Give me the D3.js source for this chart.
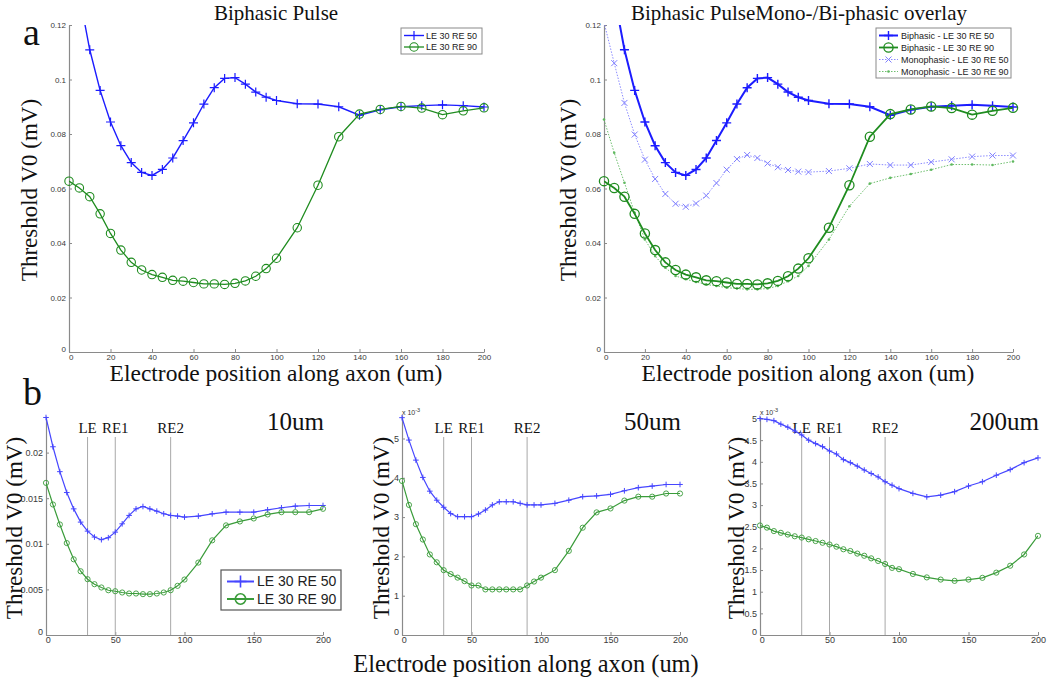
<!DOCTYPE html>
<html>
<head>
<meta charset="utf-8">
<script src="https://cdn.jsdelivr.net/npm/d3@7"></script>
<style>
  html, body { margin: 0; padding: 0; background: #fff; }
  svg { display: block; }
  .tick text { font-family: Arial, "Liberation Sans", sans-serif; fill: #3a3a3a; }
  .serif { font-family: "Liberation Serif", "Times New Roman", serif; fill: #111; }
</style>
</head>
<body>
<script>
// ---------- data ----------
const xPos = [0,5,10,15,20,25,30,35,40,45,50,55,60,65,70,75,80,85,90,95,100,110,120,130,140,150,160,170,180,190,200];

// Panel a: biphasic pulse thresholds (mV)
const biLE50 = [0.160,0.131,0.1109,0.0960,0.0844,0.0757,0.0695,0.0659,0.0648,0.0670,0.0712,0.0776,0.0841,0.0910,0.0970,0.1004,0.1007,0.0983,0.0954,0.0935,0.0923,0.0911,0.0910,0.0900,0.0869,0.0889,0.0900,0.0904,0.0907,0.0904,0.0899];
const biLE90 = [0.0627,0.0602,0.0570,0.0507,0.0435,0.0374,0.0329,0.0301,0.0284,0.0274,0.0263,0.0260,0.0255,0.0250,0.0250,0.0248,0.0252,0.0261,0.0278,0.0306,0.0344,0.0456,0.0612,0.0790,0.0873,0.0890,0.0901,0.0895,0.0871,0.0885,0.0896];
// Monophasic overlay (mV)
const monoLE50 = [0.1210,0.1060,0.0914,0.0798,0.0706,0.0635,0.0580,0.0544,0.0533,0.0545,0.0574,0.0620,0.0669,0.0708,0.0723,0.0712,0.0692,0.0678,0.0668,0.0662,0.0660,0.0664,0.0674,0.0690,0.0686,0.0686,0.0697,0.0707,0.0717,0.0721,0.0721];
const monoLE90 = [0.0853,0.0731,0.0621,0.0511,0.0413,0.0352,0.0309,0.0279,0.0267,0.0257,0.0248,0.0242,0.0236,0.0233,0.0230,0.0230,0.0233,0.0242,0.0260,0.0279,0.0316,0.0413,0.0535,0.0618,0.0639,0.0653,0.0669,0.0688,0.0688,0.0686,0.0699];

// Panel b: 10um (mV)
const d10LE50 = [0.02385,0.02064,0.01791,0.01562,0.01383,0.01238,0.01139,0.01074,0.01045,0.01067,0.01128,0.01219,0.01311,0.01383,0.01409,0.01383,0.01358,0.01329,0.01311,0.01304,0.01293,0.01304,0.01329,0.01347,0.01347,0.01347,0.01373,0.01395,0.01413,0.01420,0.01420];
const d10LE90 = [0.01668,0.01431,0.01212,0.01008,0.00830,0.00699,0.00612,0.00557,0.00521,0.00491,0.00480,0.00466,0.00455,0.00455,0.00448,0.00448,0.00455,0.00466,0.00491,0.00539,0.00608,0.00794,0.01038,0.01202,0.01245,0.01278,0.01322,0.01347,0.01347,0.01347,0.01384];
// 50um (x 10^-3 mV)
const d50LE50 = [5.53,4.96,4.45,4.01,3.66,3.43,3.25,3.09,3.01,3.01,3.01,3.08,3.18,3.31,3.39,3.39,3.39,3.35,3.31,3.31,3.31,3.35,3.43,3.52,3.54,3.58,3.67,3.75,3.79,3.83,3.83];
const d50LE90 = [3.92,3.31,2.82,2.43,2.05,1.85,1.65,1.55,1.46,1.37,1.26,1.26,1.16,1.16,1.16,1.16,1.16,1.16,1.26,1.36,1.46,1.65,2.14,2.73,3.12,3.22,3.42,3.52,3.52,3.60,3.60];
// 200um (x 10^-3 mV)
const d200LE50 = [5.00,4.98,4.95,4.87,4.80,4.71,4.62,4.50,4.42,4.35,4.25,4.18,4.05,3.98,3.90,3.81,3.73,3.65,3.54,3.46,3.38,3.27,3.19,3.23,3.31,3.44,3.54,3.69,3.82,3.98,4.09];
const d200LE90 = [2.53,2.48,2.40,2.36,2.32,2.28,2.25,2.21,2.17,2.13,2.09,2.04,1.98,1.94,1.88,1.83,1.77,1.71,1.64,1.55,1.52,1.41,1.33,1.28,1.25,1.28,1.32,1.44,1.60,1.86,2.29];

const topYTicks = [0,0.02,0.04,0.06,0.08,0.1,0.12];
const topXTicks = [0,20,40,60,80,100,120,140,160,180,200];
const botXTicks = [0,50,100,150,200];
const b10YTicks = [0,0.005,0.01,0.015,0.02];
const b50YTicks = [0,1,2,3,4,5];
const b200YTicks = [0,0.5,1,1.5,2,2.5,3,3.5,4,4.5,5];
const electrodeLines = [30,50,90];
const electrodeNames = ["LE","RE1","RE2"];

// ---------- drawing ----------
const W = 1050, H = 686;
const svg = d3.select("body").append("svg").attr("width", W).attr("height", H);
svg.append("rect").attr("width", W).attr("height", H).attr("fill", "#fff");
const defs = svg.append("defs");

const BLUE = "#1c1cff", GREEN = "#1f8c1f";
const BLUE_L = "#4646ff", GREEN_L = "#3a9c3a";
const AXIS = "#8a8a8a";

function plusPath(s){ return `M${-s},0H${s}M0,${-s}V${s}`; }
function xPath(s){ return `M${-s},${-s}L${s},${s}M${-s},${s}L${s},${-s}`; }

let clipId = 0;
function makePanel(o) {
  const g = svg.append("g");
  const x = d3.scaleLinear().domain([0,200]).range([o.x0, o.x1]);
  const y = d3.scaleLinear().domain([0, o.ymax]).range([o.y0, o.y1]);
  const id = "clip" + (clipId++);
  defs.append("clipPath").attr("id", id).append("rect")
    .attr("x", o.x0).attr("y", o.y1).attr("width", o.x1 - o.x0).attr("height", o.y0 - o.y1);

  const xa = g.append("g").attr("transform", `translate(0,${o.y0})`)
    .call(d3.axisBottom(x).tickValues(o.xticks).tickSizeInner(-3).tickSizeOuter(0).tickPadding(2).tickFormat(d3.format("d")));
  const ya = g.append("g").attr("transform", `translate(${o.x0},0)`)
    .call(d3.axisLeft(y).tickValues(o.yticks).tickSizeInner(-3).tickSizeOuter(0).tickPadding(3).tickFormat(o.yfmt));
  [xa, ya].forEach(a => {
    a.select(".domain").attr("stroke", AXIS).attr("stroke-width", 1.2);
    a.selectAll(".tick line").attr("stroke", AXIS);
    a.selectAll(".tick text").attr("font-size", o.tickFont);
  });
  ya.selectAll(".tick").filter(d => d === 0).select("text").attr("dy", "-0.1em");
  xa.selectAll(".tick").filter(d => d === 0).select("text").attr("dx", "0.2em");
  return {g, x, y, clip: `url(#${id})`};
}

function drawSeries(p, vals, st) {
  const pts = xPos.map((xx, i) => [xx, vals[i]]);
  const line = d3.line().x(d => p.x(d[0])).y(d => p.y(d[1]));
  p.g.append("path").datum(pts).attr("d", line).attr("fill", "none")
    .attr("stroke", st.color).attr("stroke-width", st.lw)
    .attr("stroke-dasharray", st.dash || null)
    .attr("clip-path", p.clip);
  const ymax = p.y.domain()[1];
  const vis = pts.filter(d => d[1] <= ymax * 1.001);
  const mk = p.g.append("g");
  vis.forEach(d => {
    const cx = p.x(d[0]), cy = p.y(d[1]);
    if (st.marker === "o") {
      mk.append("circle").attr("cx", cx).attr("cy", cy).attr("r", st.ms)
        .attr("fill", "none").attr("stroke", st.color).attr("stroke-width", st.mlw || 1);
    } else if (st.marker === "+") {
      mk.append("path").attr("transform", `translate(${cx},${cy})`).attr("d", plusPath(st.ms))
        .attr("stroke", st.color).attr("stroke-width", st.mlw || 1).attr("fill", "none");
    } else if (st.marker === "x") {
      mk.append("path").attr("transform", `translate(${cx},${cy})`).attr("d", xPath(st.ms))
        .attr("stroke", st.color).attr("stroke-width", st.mlw || 1).attr("fill", "none");
    } else if (st.marker === ".") {
      mk.append("circle").attr("cx", cx).attr("cy", cy).attr("r", st.ms).attr("fill", st.color);
    }
  });
}

function legendEntry(g, x0, x1, yy, st, label, fontSize, tx) {
  g.append("line").attr("x1", x0).attr("x2", x1).attr("y1", yy).attr("y2", yy)
    .attr("stroke", st.color).attr("stroke-width", st.lw).attr("stroke-dasharray", st.dash || null);
  const cx = (x0 + x1) / 2;
  if (st.marker === "o") g.append("circle").attr("cx", cx).attr("cy", yy).attr("r", st.ms).attr("fill", "none").attr("stroke", st.color).attr("stroke-width", st.mlw || 1);
  if (st.marker === "+") g.append("path").attr("transform", `translate(${cx},${yy})`).attr("d", plusPath(st.ms)).attr("stroke", st.color).attr("stroke-width", st.mlw || 1);
  if (st.marker === "x") g.append("path").attr("transform", `translate(${cx},${yy})`).attr("d", xPath(st.ms)).attr("stroke", st.color).attr("stroke-width", st.mlw || 1);
  if (st.marker === ".") g.append("circle").attr("cx", cx).attr("cy", yy).attr("r", st.ms).attr("fill", st.color);
  g.append("text").attr("x", tx).attr("y", yy).attr("dy", "0.35em")
    .attr("font-family", "Arial, 'Liberation Sans', sans-serif").attr("font-size", fontSize)
    .attr("fill", "#222").text(label);
}

const fmtTop = d => d === 0 ? "0" : String(+d.toFixed(3));

// ---------- Panel a (left) ----------
const pA = makePanel({x0: 69, x1: 484, y0: 352, y1: 25, ymax: 0.12, xticks: topXTicks, yticks: topYTicks, yfmt: fmtTop, tickFont: 8});
const stA50 = {color: BLUE, lw: 1.4, marker: "+", ms: 4.5, mlw: 1.2};
const stA90 = {color: GREEN, lw: 1.3, marker: "o", ms: 4.2, mlw: 1.1};
drawSeries(pA, biLE50, stA50);
drawSeries(pA, biLE90, stA90);
{
  const lg = svg.append("g");
  lg.append("rect").attr("x", 401).attr("y", 28).attr("width", 81).attr("height", 26).attr("fill", "#fff").attr("stroke", AXIS);
  legendEntry(lg, 404, 424, 35.5, stA50, "LE 30 RE 50", 9, 426);
  legendEntry(lg, 404, 424, 47, stA90, "LE 30 RE 90", 9, 426);
}

// ---------- Panel a (right) ----------
const pB = makePanel({x0: 604, x1: 1013, y0: 352, y1: 25, ymax: 0.12, xticks: topXTicks, yticks: topYTicks, yfmt: fmtTop, tickFont: 8});
const stM50 = {color: "#7f7fff", lw: 0.9, dash: "1.5,1.5", marker: "x", ms: 3, mlw: 1};
const stM90 = {color: "#5fb85f", lw: 0.9, dash: "1.5,1.5", marker: ".", ms: 1.3};
const stB50 = {color: BLUE, lw: 2, marker: "+", ms: 4.5, mlw: 1.4};
const stB90 = {color: GREEN, lw: 1.8, marker: "o", ms: 4.6, mlw: 1.3};
drawSeries(pB, monoLE50, stM50);
drawSeries(pB, monoLE90, stM90);
drawSeries(pB, biLE50, stB50);
drawSeries(pB, biLE90, stB90);
{
  const lg = svg.append("g");
  lg.append("rect").attr("x", 876).attr("y", 28).attr("width", 135).attr("height", 50).attr("fill", "#fff").attr("stroke", AXIS);
  legendEntry(lg, 879, 898, 35.5, stB50, "Biphasic - LE 30 RE 50", 9, 901);
  legendEntry(lg, 879, 898, 47.5, stB90, "Biphasic - LE 30 RE 90", 9, 901);
  legendEntry(lg, 879, 898, 59.5, stM50, "Monophasic - LE 30 RE 50", 9, 901);
  legendEntry(lg, 879, 898, 71.5, stM90, "Monophasic - LE 30 RE 90", 9, 901);
}

// ---------- Panel b ----------
const stS50 = {color: BLUE_L, lw: 1.2, marker: "+", ms: 2.8, mlw: 1};
const stS90 = {color: GREEN_L, lw: 1.2, marker: "o", ms: 2.6, mlw: 0.9};

const bPanels = [
  {x0: 46, x1: 323, ymax: 0.024, yTop: 635 - 0.024 / 0.005 * 45.6, yticks: b10YTicks, yfmt: d => d === 0 ? "0" : String(+d.toFixed(3)), d50: d10LE50, d90: d10LE90, label: "10um", exp: false},
  {x0: 402, x1: 680, ymax: 5.6, yTop: 635 - 5.6 * 39.3, yticks: b50YTicks, yfmt: d => String(d), d50: d50LE50, d90: d50LE90, label: "50um", exp: true},
  {x0: 760, x1: 1038, ymax: 5.05, yTop: 635 - 5.05 * 43.3, yticks: b200YTicks, yfmt: d => String(d), d50: d200LE50, d90: d200LE90, label: "200um", exp: true}
];
const ylabX = [22, 389, 744];
bPanels.forEach((b, k) => {
  const p = makePanel({x0: b.x0, x1: b.x1, y0: 635, y1: b.yTop, ymax: b.ymax, xticks: botXTicks, yticks: b.yticks, yfmt: b.yfmt, tickFont: 9});
  electrodeLines.forEach((e, i) => {
    p.g.append("line").attr("x1", p.x(e)).attr("x2", p.x(e)).attr("y1", 437).attr("y2", 635)
      .attr("stroke", "#a8a8a8").attr("stroke-width", 1);
    p.g.append("text").attr("class", "serif").attr("x", p.x(e)).attr("y", 433)
      .attr("text-anchor", "middle").attr("font-size", 15).text(electrodeNames[i]);
  });
  drawSeries(p, b.d50, stS50);
  drawSeries(p, b.d90, stS90);
  p.g.append("text").attr("class", "serif").attr("x", b.x1 + 1).attr("y", 430)
    .attr("text-anchor", "end").attr("font-size", 25).text(b.label);
  if (b.exp) {
    const t = p.g.append("text").attr("x", b.x0).attr("y", 415)
      .attr("font-family", "Arial, 'Liberation Sans', sans-serif").attr("font-size", 7).attr("fill", "#333");
    t.append("tspan").text("x 10");
    t.append("tspan").attr("dy", -3).attr("font-size", 5.5).text("-3");
  }
  svg.append("text").attr("class", "serif")
    .attr("transform", `translate(${ylabX[k]},528) rotate(-90)`)
    .attr("text-anchor", "middle").attr("font-size", 23).text("Threshold V0 (mV)");
});
{
  const lg = svg.append("g");
  lg.append("rect").attr("x", 221).attr("y", 570).attr("width", 120).attr("height", 40).attr("fill", "#fff").attr("stroke", "#555").attr("stroke-width", 1.2);
  legendEntry(lg, 227, 254, 581.5, {color: BLUE_L, lw: 2, marker: "+", ms: 6, mlw: 1.6}, "LE 30 RE 50", 14, 257);
  legendEntry(lg, 227, 254, 599, {color: GREEN_L, lw: 2, marker: "o", ms: 5.2, mlw: 1.6}, "LE 30 RE 90", 14, 257);
}

// ---------- texts ----------
function serifText(x, y, s, size, rot) {
  const t = svg.append("text").attr("class", "serif").attr("font-size", size).attr("text-anchor", "middle");
  if (rot) t.attr("transform", `translate(${x},${y}) rotate(-90)`); else t.attr("x", x).attr("y", y);
  t.text(s);
  return t;
}
serifText(276, 20, "Biphasic Pulse", 21);
serifText(799, 20, "Biphasic PulseMono-/Bi-phasic overlay", 21);
serifText(37, 190, "Threshold V0 (mV)", 23, true);
serifText(576, 190, "Threshold V0 (mV)", 23, true);
serifText(276, 381, "Electrode position along axon (um)", 23.5);
serifText(808, 381, "Electrode position along axon (um)", 23.5);
serifText(526, 672, "Electrode position along axon (um)", 24.4);
svg.append("text").attr("class", "serif").attr("x", 23).attr("y", 45).attr("font-size", 38).text("a");
svg.append("text").attr("class", "serif").attr("x", 23).attr("y", 405).attr("font-size", 38).text("b");
</script>
</body>
</html>
